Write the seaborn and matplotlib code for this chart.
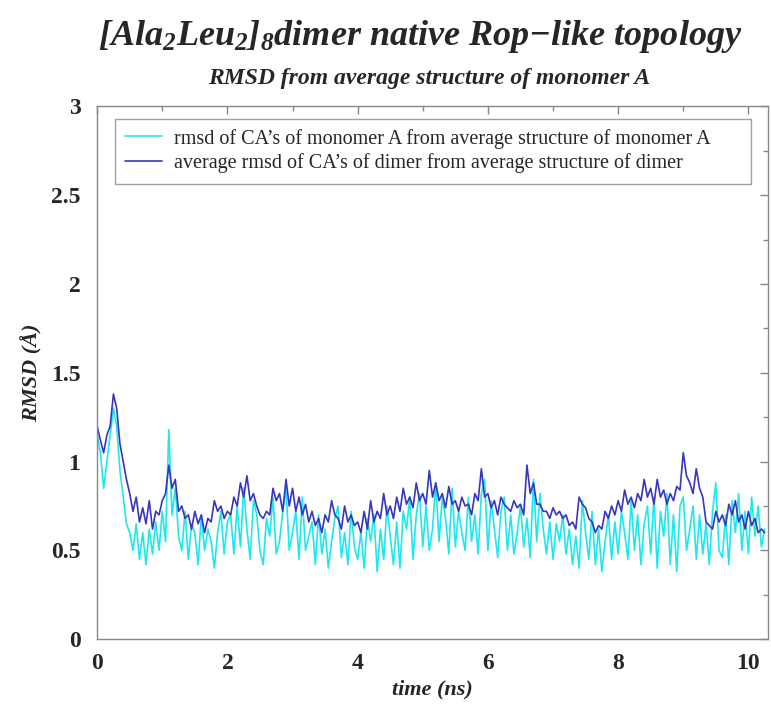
import numpy as np
import pandas as pd
import matplotlib
matplotlib.use("Agg")
import matplotlib.pyplot as plt
from matplotlib.ticker import MultipleLocator
import seaborn as sns

# sampling step of the trajectory (ns)
dt_ns = 0.05

# rmsd of CA's of monomer A from average structure of monomer A
rmsd_monomer_a = [
    1.15, 1.05, 0.85, 1.00, 1.15, 1.30, 1.20, 0.95, 0.80, 0.65, 0.60, 0.50, 0.65, 0.45, 0.60, 0.42, 0.62, 0.48, 0.66, 0.50,
    0.72, 0.55, 1.18, 0.70, 0.85, 0.58, 0.50, 0.72, 0.45, 0.65, 0.60, 0.42, 0.70, 0.50, 0.62, 0.55, 0.40, 0.60, 0.72, 0.48,
    0.66, 0.70, 0.48, 0.75, 0.52, 0.85, 0.62, 0.45, 0.78, 0.70, 0.50, 0.42, 0.68, 0.58, 0.80, 0.48, 0.55, 0.72, 0.85, 0.50,
    0.60, 0.72, 0.45, 0.80, 0.50, 0.58, 0.66, 0.42, 0.70, 0.48, 0.62, 0.40, 0.55, 0.68, 0.75, 0.46, 0.60, 0.42, 0.72, 0.52,
    0.45, 0.60, 0.40, 0.68, 0.55, 0.70, 0.38, 0.62, 0.45, 0.75, 0.58, 0.42, 0.66, 0.40, 0.72, 0.62, 0.80, 0.45, 0.70, 0.82,
    0.52, 0.75, 0.50, 0.62, 0.88, 0.55, 0.80, 0.68, 0.48, 0.85, 0.52, 0.72, 0.60, 0.50, 0.80, 0.55, 0.70, 0.48, 0.82, 0.90,
    0.50, 0.78, 0.62, 0.46, 0.72, 0.80, 0.50, 0.70, 0.48, 0.60, 0.75, 0.52, 0.68, 0.46, 0.90, 0.55, 0.82, 0.62, 0.48, 0.66,
    0.45, 0.65, 0.55, 0.70, 0.48, 0.62, 0.42, 0.58, 0.40, 0.78, 0.60, 0.45, 0.72, 0.42, 0.62, 0.38, 0.55, 0.70, 0.45, 0.66,
    0.48, 0.72, 0.60, 0.45, 0.78, 0.50, 0.70, 0.42, 0.65, 0.75, 0.48, 0.80, 0.40, 0.72, 0.58, 0.82, 0.42, 0.70, 0.38, 0.75,
    0.80, 0.50, 0.62, 0.75, 0.45, 0.70, 0.48, 0.65, 0.42, 0.72, 0.88, 0.50, 0.46, 0.70, 0.42, 0.78, 0.60, 0.82, 0.50, 0.72,
    0.48, 0.80, 0.58, 0.75, 0.52, 0.62,
]

# average rmsd of CA's of dimer from average structure of dimer
rmsd_dimer = [
    1.20, 1.12, 1.05, 1.15, 1.20, 1.38, 1.30, 1.10, 1.00, 0.90, 0.82, 0.72, 0.80, 0.66, 0.74, 0.65, 0.78, 0.62, 0.72, 0.70,
    0.78, 0.82, 0.98, 0.85, 0.90, 0.72, 0.75, 0.68, 0.70, 0.62, 0.72, 0.65, 0.70, 0.60, 0.68, 0.66, 0.78, 0.72, 0.75, 0.68,
    0.72, 0.70, 0.80, 0.75, 0.88, 0.80, 0.92, 0.78, 0.82, 0.75, 0.70, 0.68, 0.72, 0.70, 0.85, 0.78, 0.82, 0.72, 0.90, 0.75,
    0.85, 0.72, 0.80, 0.70, 0.76, 0.66, 0.72, 0.64, 0.68, 0.60, 0.70, 0.66, 0.78, 0.70, 0.68, 0.62, 0.75, 0.66, 0.70, 0.64,
    0.66, 0.60, 0.72, 0.62, 0.78, 0.66, 0.72, 0.68, 0.82, 0.70, 0.75, 0.68, 0.80, 0.72, 0.85, 0.76, 0.80, 0.74, 0.88, 0.78,
    0.82, 0.76, 0.95, 0.80, 0.88, 0.78, 0.82, 0.74, 0.86, 0.76, 0.78, 0.72, 0.80, 0.75, 0.76, 0.70, 0.82, 0.78, 0.96, 0.80,
    0.82, 0.74, 0.78, 0.70, 0.80, 0.76, 0.74, 0.72, 0.78, 0.74, 0.76, 0.70, 0.98, 0.82, 0.88, 0.76, 0.76, 0.72, 0.72, 0.68,
    0.74, 0.70, 0.72, 0.68, 0.70, 0.64, 0.66, 0.62, 0.80, 0.76, 0.74, 0.68, 0.66, 0.60, 0.64, 0.62, 0.72, 0.68, 0.75, 0.70,
    0.78, 0.72, 0.84, 0.76, 0.80, 0.74, 0.82, 0.78, 0.90, 0.80, 0.85, 0.76, 0.90, 0.80, 0.84, 0.76, 0.82, 0.78, 0.86, 0.84,
    1.05, 0.92, 0.88, 0.82, 0.96, 0.85, 0.80, 0.66, 0.64, 0.62, 0.72, 0.66, 0.70, 0.64, 0.76, 0.70, 0.78, 0.66, 0.70, 0.62,
    0.72, 0.64, 0.68, 0.60, 0.62, 0.60,
]

series_labels = [
    "rmsd of CA\u2019s of monomer A from average structure of monomer A",
    "average rmsd of CA\u2019s of dimer from average structure of dimer",
]
series_colors = ["#1ee8ee", "#3636c2"]

sns.set_theme(style="white")
plt.rcParams["font.family"] = ["Liberation Serif", "DejaVu Serif"]
plt.rcParams["mathtext.fontset"] = "custom"
plt.rcParams["mathtext.rm"] = "Liberation Serif:bold:italic"
plt.rcParams["mathtext.it"] = "Liberation Serif:bold:italic"
plt.rcParams["mathtext.bf"] = "Liberation Serif:bold:italic"

time_ns = np.arange(len(rmsd_monomer_a)) * dt_ns
df = pd.DataFrame({
    "time": np.concatenate([time_ns, time_ns]),
    "rmsd": rmsd_monomer_a + rmsd_dimer,
    "series": [series_labels[0]] * len(rmsd_monomer_a) + [series_labels[1]] * len(rmsd_dimer),
})

fig = plt.figure(figsize=(7.71, 7.04), dpi=100)
ax = fig.add_axes([0.126, 0.092, 0.87, 0.757])

sns.lineplot(data=df, x="time", y="rmsd", hue="series", hue_order=series_labels,
             palette=series_colors, linewidth=1.2, ax=ax, estimator=None, sort=False)

ax.set_xlim(0, 10.3)
ax.set_ylim(0, 3)
ax.xaxis.set_major_locator(MultipleLocator(2))
ax.xaxis.set_minor_locator(MultipleLocator(1))
ax.yaxis.set_minor_locator(MultipleLocator(0.25))
ax.set_yticks([0, 0.5, 1, 1.5, 2, 2.5, 3])
ax.set_yticklabels(["0", "0.5", "1", "1.5", "2", "2.5", "3"])

ax.tick_params(which="both", direction="in", top=True, right=True, color="#888888")
ax.tick_params(which="major", length=6, width=1, labelsize=17)
ax.tick_params(axis="y", which="major", pad=12)
ax.tick_params(axis="x", which="major", pad=10)
ax.tick_params(which="minor", length=3.5, width=1)
for lab in ax.get_xticklabels() + ax.get_yticklabels():
    lab.set_fontweight("bold")
for sp in ax.spines.values():
    sp.set_color("#888888")
    sp.set_linewidth(1.0)

ax.set_xlabel("time (ns)", fontsize=16, fontweight="bold", style="italic", labelpad=4)
ax.set_ylabel("RMSD (\u00c5)", fontsize=16, fontweight="bold", style="italic", labelpad=6)

leg = ax.legend(loc="upper left", bbox_to_anchor=(0.027, 0.977, 0.948, 0), mode="expand",
                fontsize=14.5, frameon=True, fancybox=False, edgecolor="#888888",
                handlelength=1.8, handletextpad=0.6, borderpad=0.5, labelspacing=0.25,
                borderaxespad=0)
leg.get_frame().set_linewidth(1.0)

fig.text(0.545, 0.948, "[Ala$_2$Leu$_2$]$_8$dimer native Rop\u2212like topology",
         ha="center", va="center", fontsize=26, fontweight="bold", style="italic")
fig.text(0.557, 0.889, "RMSD from average structure of monomer A",
         ha="center", va="center", fontsize=17, fontweight="bold", style="italic")

fig.savefig("out.png", dpi=100)
